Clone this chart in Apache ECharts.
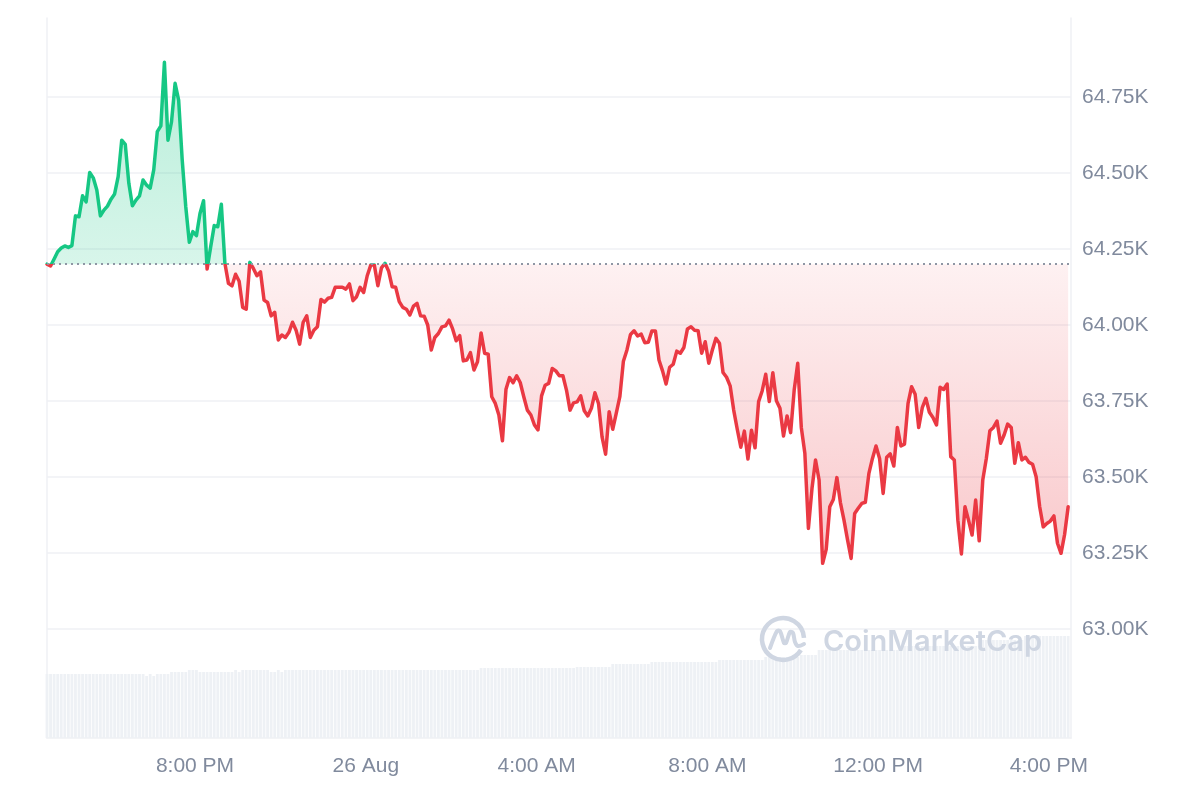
<!DOCTYPE html>
<html>
<head>
<meta charset="utf-8">
<script src="https://cdn.jsdelivr.net/npm/echarts@6/dist/echarts.min.js"></script>
<style>
html,body{margin:0;padding:0;background:#fff;}
#chart{width:1200px;height:800px;}
</style>
</head>
<body>
<div id="chart"></div>
<script>
// Time: hours since 25 Aug 00:00, one point every 5 minutes
const startHour = 16 + 32 / 60;
const endHour = 40 + 31 / 60;
const stepMinutes = 5;
const baselinePrice = 64200;

const xTickHours = [20, 24, 28, 32, 36, 40];
const xTickLabels = ['8:00 PM', '26 Aug', '4:00 AM', '8:00 AM', '12:00 PM', '4:00 PM'];

const prices = [
64200,64194,64217,64241,64253,64260,64255,64261,64359,64356,
64425,64405,64502,64484,64444,64359,64378,64391,64414,64431,
64488,64608,64594,64466,64392,64411,64425,64477,64460,64450,
64510,64636,64655,64864,64608,64669,64795,64740,64543,64389,
64272,64307,64294,64367,64409,64184,64257,64327,64323,64397,
64203,64137,64129,64167,64144,64058,64052,64206,64186,64162,
64175,64082,64074,64030,64042,63951,63967,63959,63976,64009,
63983,63937,64009,64030,63959,63983,63994,64084,64075,64088,
64091,64124,64124,64124,64118,64135,64080,64093,64124,64107,
64162,64197,64197,64129,64188,64203,64178,64126,64124,64077,
64058,64052,64033,64062,64071,64030,64029,64000,63918,63959,
63972,63994,63997,64016,63987,63948,63965,63882,63885,63909,
63852,63879,63974,63907,63904,63764,63742,63704,63619,63789,
63827,63810,63833,63811,63764,63720,63704,63671,63655,63767,
63802,63808,63857,63849,63833,63833,63786,63720,63744,63747,
63767,63718,63701,63726,63777,63742,63632,63575,63715,63657,
63710,63764,63881,63918,63969,63981,63964,63970,63942,63943,
63980,63980,63885,63849,63806,63861,63871,63914,63907,63926,
63987,63994,63983,63981,63907,63945,63874,63918,63956,63940,
63844,63828,63800,63720,63657,63598,63651,63559,63654,63596,
63748,63783,63838,63748,63843,63751,63726,63635,63701,63646,
63786,63874,63663,63578,63331,63462,63556,63490,63216,63262,
63402,63426,63498,63415,63358,63293,63232,63380,63397,63413,
63417,63512,63561,63602,63561,63446,63565,63576,63536,63663,
63602,63608,63742,63797,63772,63663,63728,63759,63713,63696,
63671,63795,63788,63806,63567,63556,63358,63247,63402,63358,
63309,63424,63290,63490,63561,63652,63663,63684,63611,63638,
63674,63663,63545,63613,63556,63565,63548,63542,63501,63402,
63336,63347,63355,63372,63282,63249,63311,63402
];

// 24h volume (billions USD), one bar per price point
const volumes = [
16,16,16,16,16,16,16,16,16,16,
16,16,16,16,16,16,16,16,16,16,
16,16,16,16,16,16,16,16,15.5,16,
15.5,16,16,16,16,16.5,16.5,16.5,16.5,16.5,
17,17,17,16.5,16.5,16.5,16.5,16.5,16.5,16.5,
16.5,16.5,16.5,17,16.5,17,17,17,17,17,
17,17,17,16.5,16.5,17,16.5,17,17,17,
17,17,17,17,17,17,17,17,17,17,
17,17,17,17,17,17,17,17,17,17,
17,17,17,17,17,17,17,17,17,17,
17,17,17,17,17,17,17,17,17,17,
17,17,17,17,17,17,17,17,17,17,
17,17,17.5,17.5,17.5,17.5,17.5,17.5,17.5,17.5,
17.5,17.5,17.5,17.5,17.5,17.5,17.5,17.5,17.5,17.5,
17.5,17.5,17.5,17.5,17.5,17.5,17.5,17.5,17.5,17.75,
17.75,17.75,17.75,17.75,17.75,17.75,17.75,17.75,17.75,18.5,
18.5,18.5,18.5,18.5,18.5,18.5,18.5,18.5,18.5,18.5,
19,19,19,19,19,19,19,19,19,19,
19,19,19,19,19,19,19,19,19,19.5,
19.5,19.5,19.5,19.5,19.5,19.5,19.5,19.5,19.5,19.5,
19.5,19.5,20.25,20.25,20.25,20.25,20.25,20.25,20.25,20.25,
20.25,20.25,20.75,20.75,20.75,20.75,20.75,22,22,22,
22,22,22,22,22,22,22,22,22,22,
22,22,22,22,22,22,22,22,22,22,
22,23,23,23,23,23,23,23,23,23,
23,23,23,23,23,23,23,23,23,23,
23,23,23,24.5,24.5,24.5,24.5,24.5,24.5,24.5,
24.5,24.5,24.5,24.5,24.5,25.5,25.5,25.5,25.5,25.5,
25.5,25.5,25.5,25.5,25.5,25.5,25.5,25.5
];

const hourOf = i => startHour + i * stepMinutes / 60;
const priceData = prices.map((p, i) => [hourOf(i), p]);
const upData = prices.map((p, i) => [hourOf(i), Math.max(p, baselinePrice)]);
const downData = prices.map((p, i) => [hourOf(i), Math.min(p, baselinePrice)]);
const volData = volumes.map((v, i) => [hourOf(i), v]);

const upColor = '#16c784';
const downColor = '#ea3943';
const labelColor = '#808a9d';
const gridColor = '#eff1f4';
const font = '"Liberation Sans", Arial, sans-serif';
const wm = '#cfd6e2';

const chart = echarts.init(document.getElementById('chart'), null, {renderer: 'canvas'});
chart.setOption({
  animation: false,
  backgroundColor: '#ffffff',
  grid: [
    {left: 47, right: 129, top: 18, bottom: 62},
    {left: 47, right: 129, top: 21, bottom: 95}
  ],
  xAxis: [
    {
      gridIndex: 0, type: 'value', min: startHour, max: endHour,
      axisLine: {show: true, lineStyle: {color: gridColor, width: 1.5}},
      axisTick: {show: false}, splitLine: {show: false},
      axisLabel: {
        customValues: xTickHours,
        formatter: v => xTickLabels[xTickHours.indexOf(Math.round(v))] || '',
        color: labelColor, fontSize: 21, fontFamily: font, margin: 18
      }
    },
    {gridIndex: 1, type: 'value', min: startHour, max: endHour, show: false}
  ],
  yAxis: [
    {gridIndex: 0, type: 'value', min: 0, max: 180, position: 'left',
     axisLine: {show: true, lineStyle: {color: gridColor, width: 1.5}},
     axisLabel: {show: false}, axisTick: {show: false}, splitLine: {show: false}},
    {gridIndex: 0, type: 'value', min: 0, max: 180, position: 'right',
     axisLine: {show: true, lineStyle: {color: gridColor, width: 1.5}},
     axisLabel: {show: false}, axisTick: {show: false}, splitLine: {show: false}},
    {gridIndex: 1, type: 'value', min: 62750, max: 65000, interval: 250, position: 'right',
     axisLine: {show: false}, axisTick: {show: false},
     axisLabel: {
       color: labelColor, fontSize: 21, fontFamily: font, margin: 11,
       formatter: v => (v >= 63000 && v <= 64750) ? (v / 1000).toFixed(2) + 'K' : ''
     },
     splitLine: {show: true, showMinLine: false, showMaxLine: false,
                 lineStyle: {color: gridColor, width: 1.5}}}
  ],
  graphic: [
    {type: 'arc', silent: true, z: 5,
     shape: {cx: 783, cy: 639, r: 21, startAngle: 0.55, endAngle: Math.PI * 2 - 0.05, clockwise: true},
     style: {stroke: wm, lineWidth: 4.5, fill: null}},
    {type: 'polyline', silent: true, z: 5, x: 783, y: 639,
     shape: {points: [[-13, 9], [-6, -8], [-3, -8], [1, 4], [3, 4], [7, -7], [10, -6], [12, 3], [15, 7], [21, 5]], smooth: 0.3},
     style: {stroke: wm, lineWidth: 4, fill: null, lineJoin: 'round', lineCap: 'round'}},
    {type: 'text', silent: true, z: 5, x: 823, y: 642,
     style: {text: 'CoinMarketCap', fill: wm, font: '600 29px Inter, "Noto Sans", sans-serif',
             verticalAlign: 'middle'}}
  ],
  series: [
    {type: 'bar', xAxisIndex: 0, yAxisIndex: 0, data: volData, barWidth: 2.8,
     itemStyle: {color: '#eef1f5'}, silent: true, z: 1},
    {type: 'line', xAxisIndex: 1, yAxisIndex: 2, data: upData, symbol: 'none', silent: true,
     lineStyle: {width: 0}, z: 2,
     areaStyle: {origin: baselinePrice, opacity: 1,
       color: new echarts.graphic.LinearGradient(0, 0, 0, 1, [
         {offset: 0, color: 'rgba(22,199,132,0.30)'},
         {offset: 1, color: 'rgba(22,199,132,0.17)'}])}},
    {type: 'line', xAxisIndex: 1, yAxisIndex: 2, data: downData, symbol: 'none', silent: true,
     lineStyle: {width: 0}, z: 2,
     areaStyle: {origin: baselinePrice, opacity: 1,
       color: new echarts.graphic.LinearGradient(0, 0, 0, 1, [
         {offset: 0, color: 'rgba(234,57,67,0.07)'},
         {offset: 1, color: 'rgba(234,57,67,0.28)'}])}},
    {id: 'price', type: 'line', xAxisIndex: 1, yAxisIndex: 2, data: priceData, symbol: 'none', z: 4,
     lineStyle: {width: 3.5, color: downColor, join: 'round', cap: 'round'}, silent: true,
     markLine: {silent: true, symbol: 'none', label: {show: false},
       lineStyle: {type: [2, 4], color: '#8e96a4', width: 2},
       data: [{yAxis: baselinePrice}]}}
  ]
});

// Colour the price line green above the opening price and red below it
const baseY = chart.convertToPixel({yAxisIndex: 2}, baselinePrice);
const H = chart.getHeight();
const f = Math.min(1, Math.max(0, baseY / H));
chart.setOption({
  series: [{id: 'price', lineStyle: {color: new echarts.graphic.LinearGradient(0, 0, 0, H, [
    {offset: 0, color: upColor}, {offset: f, color: upColor},
    {offset: f, color: downColor}, {offset: 1, color: downColor}], true)}}]
});
</script>
</body>
</html>
